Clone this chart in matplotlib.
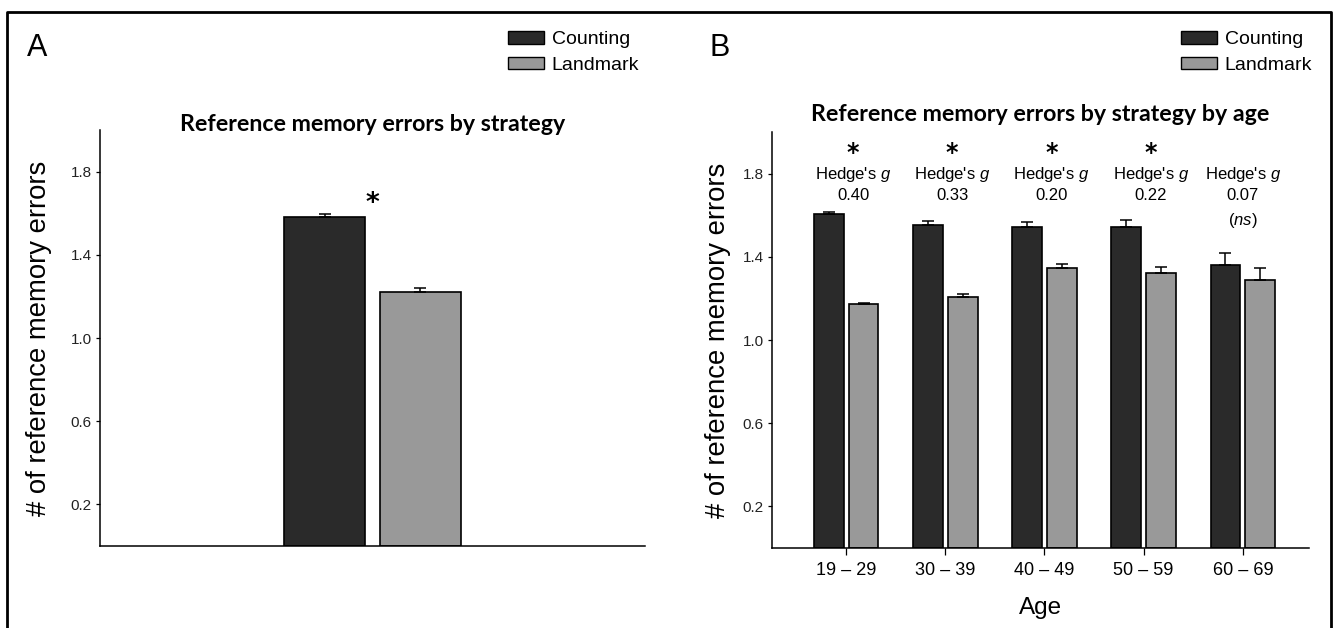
"""
Reference memory errors by navigation strategy (A) and by strategy x age (B).
Two-panel grouped bar chart with SE error bars and Hedge's g annotations.
"""

import matplotlib

matplotlib.use("Agg")

import matplotlib.pyplot as plt
import numpy as np
from matplotlib.lines import Line2D
from matplotlib.patches import Patch

# --- Configuration ---
plt.rcParams["font.family"] = ["Liberation Sans", "DejaVu Sans"]
plt.rcParams["mathtext.fontset"] = "custom"
plt.rcParams["mathtext.rm"] = "Liberation Sans"
plt.rcParams["mathtext.it"] = "Liberation Sans:italic"

W, H = 1334, 628
COLOR_COUNTING = "#2a2a2a"
COLOR_LANDMARK = "#999999"
TITLE_FONT = "Lato"

# --- Data ---
strategies = ["Counting", "Landmark"]
overall_means = [1.583, 1.221]
overall_err = [0.013, 0.018]

age_groups = ["19 – 29", "30 – 39", "40 – 49", "50 – 59", "60 – 69"]
counting_means = [1.606, 1.555, 1.542, 1.544, 1.359]
counting_err = [0.008, 0.016, 0.024, 0.035, 0.060]
landmark_means = [1.172, 1.209, 1.345, 1.321, 1.287]
landmark_err = [0.006, 0.011, 0.019, 0.031, 0.061]
hedges_g = ["0.40", "0.33", "0.20", "0.22", "0.07"]
significant = [True, True, True, True, False]

y_ticks = [0.2, 0.6, 1.0, 1.4, 1.8]

BAR_W = 0.30
OFFSET = 0.176


def px_box(left, top, right, bottom):
    """Pixel box -> figure-fraction [l, b, w, h]."""
    return [left / W, 1 - bottom / H, (right - left) / W, (bottom - top) / H]


def style_axis(ax):
    for side in ("top", "right"):
        ax.spines[side].set_visible(False)
    for side in ("left", "bottom"):
        ax.spines[side].set_linewidth(1.1)
    ax.set_ylim(0, 2.0)
    ax.set_yticks(y_ticks)
    ax.set_yticklabels([f"{t:.1f}" for t in y_ticks])
    ax.tick_params(axis="y", direction="out", length=3, width=0.9,
                   labelsize=11, pad=3, labelcolor="#222222")
    ax.set_ylabel("# of reference memory errors", fontsize=19.8)


def draw_bars(ax, x, means, errs, color):
    ax.bar(x, means, width=BAR_W, color=color, edgecolor="black",
           linewidth=1.2, zorder=2)
    ax.errorbar(x, means, yerr=[np.zeros(len(errs)), errs], fmt="none",
                ecolor="black", elinewidth=1.1, capsize=4.2, capthick=1.1,
                zorder=3)


def add_legend(ax, left_px):
    handles = [
        Patch(facecolor=COLOR_COUNTING, edgecolor="black", linewidth=1.0),
        Patch(facecolor=COLOR_LANDMARK, edgecolor="black", linewidth=1.0),
    ]
    ax.legend(handles, strategies, loc="upper left",
              bbox_to_anchor=(left_px / W, 1 - 31 / H),
              bbox_transform=ax.figure.transFigure, frameon=False,
              fontsize=14, handlelength=1.85, handleheight=0.62,
              handletextpad=0.4, labelspacing=0.45, borderpad=0,
              borderaxespad=0)


fig = plt.figure(figsize=(W / 100, H / 100), dpi=100)

# =============================================================================
# PANEL A: overall by strategy
# =============================================================================
ax_a = fig.add_axes(px_box(100, 130, 645, 546))
style_axis(ax_a)
ax_a.set_xlim(-1.0, 1.0)
ax_a.set_xticks([])
ax_a.yaxis.set_label_coords(-0.088, 0.5)

x_a = np.array([-OFFSET, OFFSET])
for i, (m, e) in enumerate(zip(overall_means, overall_err)):
    color = COLOR_COUNTING if i == 0 else COLOR_LANDMARK
    draw_bars(ax_a, [x_a[i]], [m], [e], color)

ax_a.text(0.0, 1.645, "*", fontsize=19, fontweight="bold",
          family="DejaVu Sans", ha="center", va="center")
ax_a.text(0.5, 1.014, "Reference memory errors by strategy",
          transform=ax_a.transAxes, ha="center", va="center",
          fontsize=16.7, fontweight="bold", family=TITLE_FONT)
add_legend(ax_a, 508)

# =============================================================================
# PANEL B: by strategy and age
# =============================================================================
ax_b = fig.add_axes(px_box(772, 132, 1309, 548))
style_axis(ax_b)
x_b = np.arange(len(age_groups))
ax_b.set_xlim(-0.747, 4.667)
ax_b.set_xticks(x_b)
ax_b.set_xticklabels(age_groups)
ax_b.tick_params(axis="x", direction="out", length=5, width=0.9,
                 labelsize=13, pad=5)
ax_b.set_xlabel("Age", fontsize=17.5)
ax_b.xaxis.set_label_coords(0.5, -0.118)
ax_b.yaxis.set_label_coords(-0.076, 0.5)

draw_bars(ax_b, x_b - OFFSET, counting_means, counting_err, COLOR_COUNTING)
draw_bars(ax_b, x_b + OFFSET, landmark_means, landmark_err, COLOR_LANDMARK)

for i, (g, sig) in enumerate(zip(hedges_g, significant)):
    xt = i + (0.07 if sig else 0.0)
    if sig:
        ax_b.text(xt, 1.90, "*", fontsize=17, fontweight="bold",
                  family="DejaVu Sans", ha="center", va="center")
    ax_b.text(xt, 1.795, "Hedge's $\\mathit{g}$", fontsize=12,
              ha="center", va="center")
    ax_b.text(xt, 1.693, g, fontsize=12, ha="center", va="center")
    if not sig:
        ax_b.text(xt, 1.573, "($\\mathit{ns}$)", fontsize=12,
                  ha="center", va="center")

ax_b.text(0.5, 1.041, "Reference memory errors by strategy by age",
          transform=ax_b.transAxes, ha="center", va="center",
          fontsize=16.7, fontweight="bold", family=TITLE_FONT)
add_legend(ax_b, 1181)

# --- Panel letters and outer frame ---
fig.text(37 / W, 1 - 48 / H, "A", fontsize=22, ha="center", va="center")
fig.text(720 / W, 1 - 48 / H, "B", fontsize=22, ha="center", va="center")

frame_x = [6.5 / W, 6.5 / W, 1331 / W, 1331 / W]
frame_y = [-0.05, 1 - 11.5 / H, 1 - 11.5 / H, -0.05]
fig.add_artist(Line2D(frame_x, frame_y, color="black", linewidth=2.0,
                      transform=fig.transFigure))

fig.savefig("out.png", dpi=100)
print("[OK] saved out.png")
